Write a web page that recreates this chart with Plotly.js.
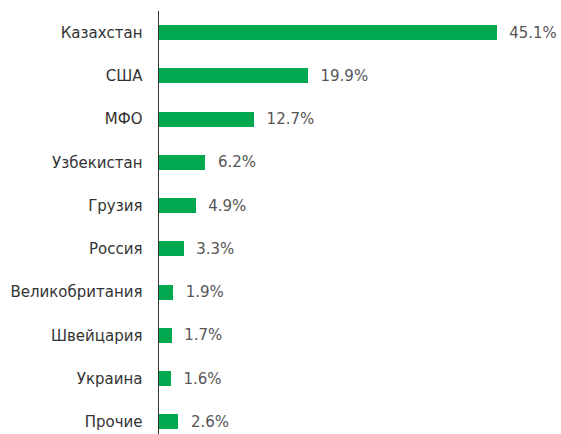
<!DOCTYPE html>
<html>
<head>
<meta charset="utf-8">
<script src="https://cdn.plot.ly/plotly-3.0.1.min.js"></script>
<style>html,body{margin:0;padding:0;background:#fff;}#chart{width:561px;height:434px;}</style>
</head>
<body>
<div id="chart"></div>
<script>
const categories = ["Казахстан", "США", "МФО", "Узбекистан", "Грузия", "Россия", "Великобритания", "Швейцария", "Украина", "Прочие"];
const values = [45.1, 19.9, 12.7, 6.2, 4.9, 3.3, 1.9, 1.7, 1.6, 2.6];

const trace = {
  type: 'bar',
  orientation: 'h',
  y: categories,
  x: values,
  width: 0.35,
  marker: {color: '#00a84f', line: {width: 0}},
  texttemplate: '\u00a0\u00a0%{x:.1f}%',
  textposition: 'outside',
  constraintext: 'none',
  cliponaxis: false,
  textfont: {family: 'DejaVu Sans', size: 15, color: '#555555'},
  hoverinfo: 'none'
};

const layout = {
  width: 561, height: 434,
  margin: {l: 159, r: 0, t: 11, b: 0, pad: 0},
  paper_bgcolor: '#ffffff', plot_bgcolor: '#ffffff',
  showlegend: false,
  bargap: 0,
  xaxis: {range: [0, 53.7], showgrid: false, zeroline: false, showticklabels: false, showline: false, ticks: ''},
  yaxis: {
    type: 'category',
    range: [9.28, -0.5],
    showgrid: false, zeroline: false,
    showline: true, linecolor: '#333333', linewidth: 1.5,
    ticks: '', ticklen: 0,
    ticklabelstandoff: 12,
    tickfont: {family: 'DejaVu Sans', size: 15, color: '#333333'}
  }
};

Plotly.newPlot('chart', [trace], layout, {staticPlot: true, displayModeBar: false});
</script>
</body>
</html>
